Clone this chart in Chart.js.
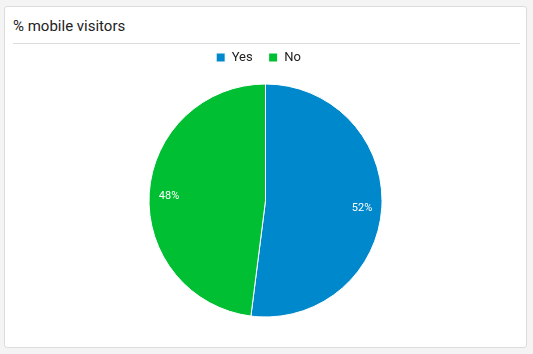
<!DOCTYPE html>
<html>
<head>
<meta charset="utf-8">
<script src="https://cdn.jsdelivr.net/npm/chart.js@4"></script>
<style>
  html, body { margin: 0; padding: 0; background: #f4f4f4; }
  body { width: 533px; height: 354px; position: relative; overflow: hidden; font-family: Roboto, sans-serif; }
  .card {
    position: absolute; left: 4px; top: 6px; width: 521px; height: 340px;
    background: #fff; border: 1px solid #dcdcdc; border-radius: 3px;
  }
  .title {
    position: absolute; left: 8px; top: 10px; font-size: 15px; color: #222;
  }
  .rule {
    position: absolute; left: 8px; right: 6px; top: 36px; height: 1px; background: #dcdcdc;
  }
  .plot { position: absolute; left: 0; top: 28px; width: 521px; height: 310px; }
</style>
</head>
<body>
<div class="card">
  <div class="title">% mobile visitors</div>
  <div class="rule"></div>
  <div class="plot"><canvas id="chart"></canvas></div>
</div>
<script>
'use strict';

// ── Data ─────────────────────────────────────────────────────────────────────
const labels = ['Yes', 'No'];
const values = [52, 48];
const colors = ['#0088cc', '#00bf33'];

// ── Slice labels ─────────────────────────────────────────────────────────────
const sliceLabels = {
  id: 'sliceLabels',
  afterLayout(chart) {
    // legend sits a little left of the pie centre
    chart.legend.left -= 7;
    chart.legend.right -= 7;
  },
  afterDatasetsDraw(chart) {
    const { ctx } = chart;
    const meta = chart.getDatasetMeta(0);
    const total = values.reduce((a, b) => a + b, 0);
    ctx.save();
    ctx.font = '11px Roboto, sans-serif';
    ctx.fillStyle = '#fff';
    ctx.textAlign = 'center';
    ctx.textBaseline = 'middle';
    meta.data.forEach((arc, i) => {
      const mid = (arc.startAngle + arc.endAngle) / 2;
      const r = arc.outerRadius * 0.83;
      const pct = Math.round(values[i] / total * 100) + '%';
      ctx.fillText(pct, arc.x + Math.cos(mid) * r, arc.y + Math.sin(mid) * r + 2);
    });
    ctx.restore();
  }
};

new Chart(document.getElementById('chart'), {
  type: 'pie',
  data: {
    labels,
    datasets: [{ data: values, backgroundColor: colors, borderColor: '#fff', borderWidth: 1 }],
  },
  options: {
    responsive: true,
    maintainAspectRatio: false,
    animation: false,
    radius: 116.5,
    layout: { padding: { bottom: 18 } },
    plugins: {
      legend: {
        position: 'top',
        labels: {
          boxWidth: 9, boxHeight: 9, padding: 16,
          color: '#222', font: { family: 'Roboto', size: 13 },
        },
      },
      tooltip: { enabled: false },
    },
  },
  plugins: [sliceLabels],
});
</script>
</body>
</html>
